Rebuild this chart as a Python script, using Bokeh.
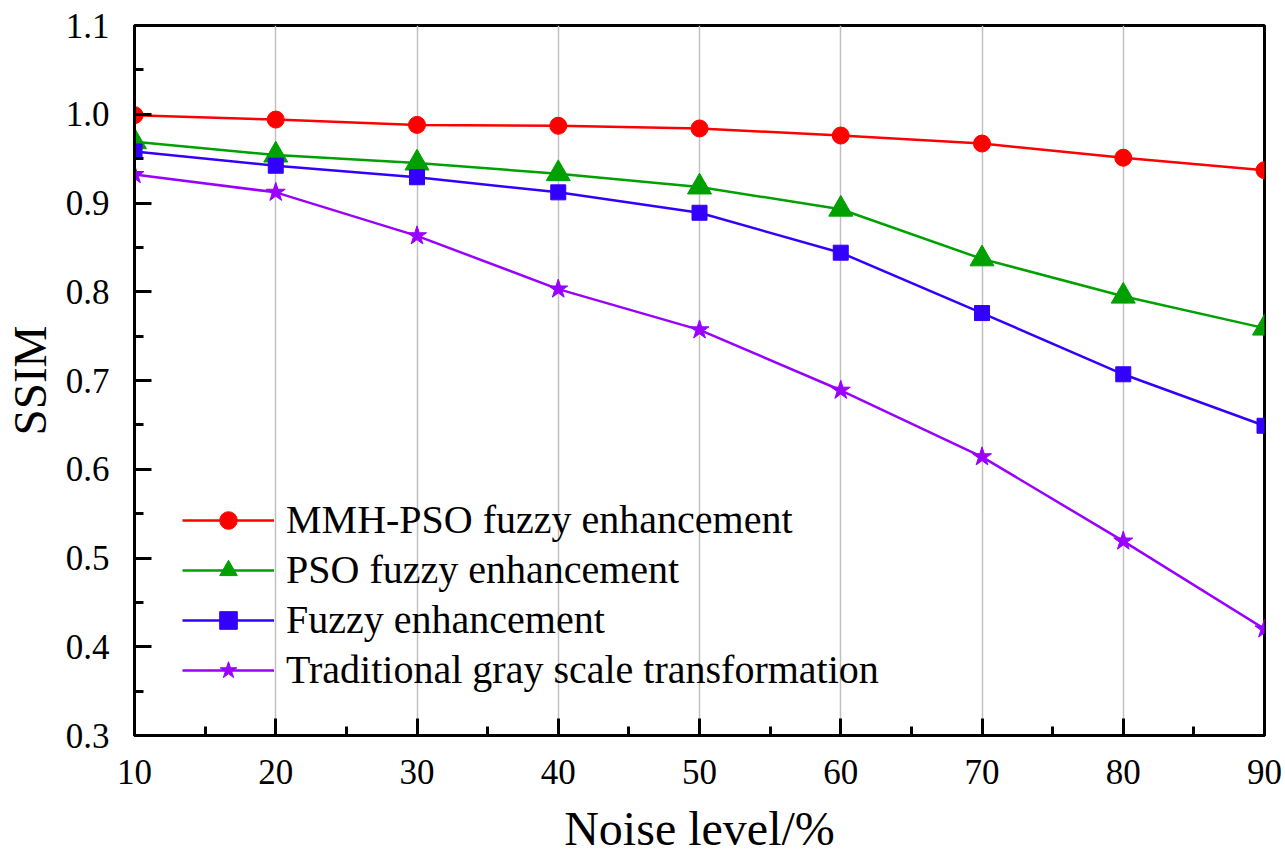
from bokeh.plotting import figure
from bokeh.models import FixedTicker, PrintfTickFormatter, Legend, LegendItem
from bokeh.embed import file_html
from bokeh.resources import INLINE

noise = [10, 20, 30, 40, 50, 60, 70, 80, 90]
mmh_pso = [0.999, 0.994, 0.988, 0.987, 0.984, 0.976, 0.967, 0.951, 0.937]
pso = [0.969, 0.954, 0.945, 0.933, 0.918, 0.893, 0.837, 0.795, 0.759]
fuzzy = [0.958, 0.942, 0.929, 0.912, 0.889, 0.844, 0.776, 0.707, 0.649]
trad = [0.932, 0.912, 0.863, 0.803, 0.757, 0.689, 0.614, 0.519, 0.420]
labels = ["MMH-PSO fuzzy enhancement", "PSO fuzzy enhancement",
          "Fuzzy enhancement", "Traditional gray scale transformation"]
x_ticks = [10, 20, 30, 40, 50, 60, 70, 80, 90]
y_ticks = [0.3, 0.4, 0.5, 0.6, 0.7, 0.8, 0.9, 1.0, 1.1]

FONT = "Liberation Serif"

p = figure(width=1285, height=858, x_range=(10, 90), y_range=(0.3, 1.1),
           output_backend="svg", toolbar_location=None,
           min_border_left=134, min_border_right=21, min_border_top=25, min_border_bottom=123)

p.outline_line_color = "black"
p.outline_line_width = 3
p.outline_line_alpha = 1
p.background_fill_color = "white"
p.border_fill_color = "white"

p.xaxis.ticker = FixedTicker(ticks=x_ticks, minor_ticks=[15, 25, 35, 45, 55, 65, 75, 85])
p.yaxis.ticker = FixedTicker(ticks=y_ticks, minor_ticks=[0.35, 0.45, 0.55, 0.65, 0.75, 0.85, 0.95, 1.05])
p.yaxis.formatter = PrintfTickFormatter(format="%.1f")

for ax in (p.xaxis[0], p.yaxis[0]):
    ax.axis_line_width = 3
    ax.axis_line_color = "black"
    ax.major_tick_in = 17
    ax.major_tick_out = 0
    ax.minor_tick_in = 9
    ax.minor_tick_out = 0
    ax.major_tick_line_width = 3
    ax.minor_tick_line_width = 3
    ax.major_label_text_font = FONT
    ax.major_label_text_font_size = "35px"
    ax.major_label_text_color = "black"
    ax.axis_label_text_font = FONT
    ax.axis_label_text_font_style = "normal"
    ax.axis_label_text_color = "black"

p.xaxis.axis_label = "Noise level/%"
p.yaxis.axis_label = "SSIM"
p.xaxis.axis_label_text_font_size = "48px"
p.yaxis.axis_label_text_font_size = "47px"
p.xaxis.major_label_standoff = 24
p.xaxis.axis_label_standoff = 15
p.yaxis.major_label_standoff = 25
p.yaxis.axis_label_standoff = 7

p.xgrid.grid_line_color = "#c0c0c0"
p.xgrid.grid_line_width = 1.5
p.ygrid.grid_line_color = None

colors = ["#ff0000", "#00a000", "#3300ff", "#9900ff"]
series = [mmh_pso, pso, fuzzy, trad]
markers = ["circle", "triangle", "square", "star"]
sizes = [17, 24, 15, 20]

items = []
for ys, c, m, s, lab in zip(series, colors, markers, sizes, labels):
    l = p.line(noise, ys, line_color=c, line_width=2.5)
    sc = p.scatter(noise, ys, marker=m, size=s, fill_color=c, line_color=c)
    items.append(LegendItem(label=lab, renderers=[l, sc]))

legend = Legend(items=items, location=(48, 42))
legend.background_fill_alpha = 0
legend.border_line_color = None
legend.label_text_font = FONT
legend.label_text_font_size = "40px"
legend.label_text_color = "black"
legend.glyph_width = 92
legend.glyph_height = 44
legend.label_height = 44
legend.spacing = 3
legend.label_standoff = 12
p.add_layout(legend, "center")

open("out.html", "w").write(file_html(p, INLINE))
